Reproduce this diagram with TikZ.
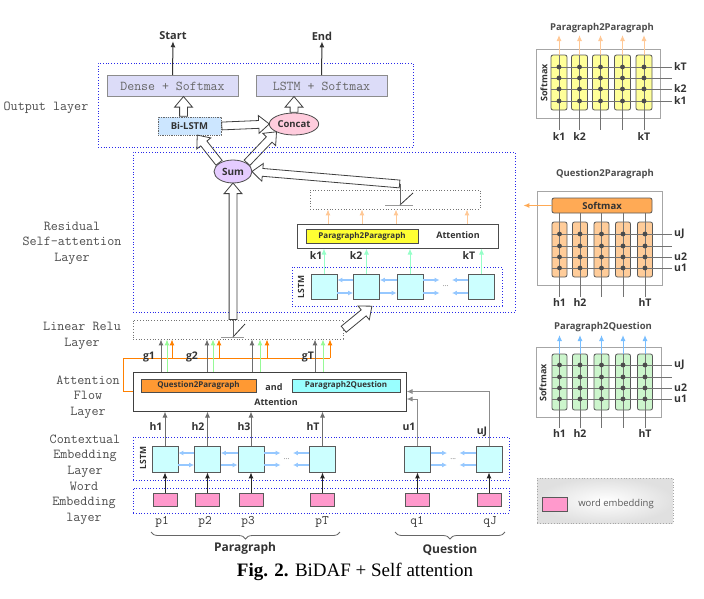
\documentclass[tikz,border=0pt]{standalone}
\usepackage{fontspec}
\setmainfont{Liberation Serif}
\setsansfont{Open Sans}
\usetikzlibrary{arrows.meta,shapes.geometric,shapes.arrows,calc,decorations.pathreplacing}

\definecolor{layerblue}{RGB}{40,40,235}
\definecolor{cellcyan}{RGB}{204,255,255}
\definecolor{embpink}{RGB}{255,153,204}
\definecolor{lavender}{RGB}{220,220,248}
\definecolor{bilstmblue}{RGB}{204,230,255}
\definecolor{concatpink}{RGB}{255,204,221}
\definecolor{sumpurple}{RGB}{229,204,255}
\definecolor{ppyellow}{RGB}{255,255,51}
\definecolor{qporange}{RGB}{255,153,51}
\definecolor{pqcyan}{RGB}{153,255,255}
\definecolor{colyellow}{RGB}{255,255,153}
\definecolor{colorange}{RGB}{255,204,153}
\definecolor{colgreen}{RGB}{204,245,204}
\definecolor{softorange}{RGB}{255,170,85}
\definecolor{peach}{RGB}{255,200,150}
\definecolor{mint}{RGB}{150,255,200}
\definecolor{lightgreen}{RGB}{150,250,150}
\definecolor{gorange}{RGB}{255,128,0}
\definecolor{arrowblue}{RGB}{150,200,255}
\definecolor{skyarrow}{RGB}{120,190,255}
\definecolor{greyline}{RGB}{110,110,110}

\tikzset{
  layerbox/.style={draw=layerblue, dotted, line width=0.8pt, inner sep=0},
  greybox/.style={draw=black!55, dotted, line width=0.8pt, inner sep=0},
  cell/.style={draw=black!65, fill=cellcyan, line width=0.8pt, minimum width=26pt, minimum height=26pt, inner sep=0},
  emb/.style={draw=black!65, fill=embpink, line width=0.8pt, minimum width=24pt, minimum height=13pt, inner sep=0},
  layername/.style={font=\ttfamily\fontsize{13.7}{15.5}\selectfont, text=black!70, align=center},
  outsm/.style={draw=black!45, fill=lavender, line width=0.8pt, minimum width=131pt, minimum height=21pt, font=\ttfamily\fontsize{13.5}{14}\selectfont, text=black!60},
  tok/.style={font=\sffamily\bfseries\fontsize{10.5}{12}\selectfont, text=black!80, inner sep=1pt},
  small/.style={font=\sffamily\bfseries\fontsize{8.5}{10}\selectfont, text=black!80, inner sep=0},
  namebox/.style={draw=black!70, line width=0.8pt, minimum height=13pt, inner sep=0, font=\sffamily\bfseries\fontsize{8}{9}\selectfont, text=black!80},
  word/.style={font=\ttfamily\fontsize{13}{14}\selectfont, text=black!80},
  title/.style={font=\sffamily\bfseries\fontsize{9.5}{11}\selectfont, text=black!70},
  col/.style={draw=black!65, line width=0.8pt, rounded corners=2pt, minimum width=15pt, inner sep=0},
  frame/.style={draw=black!35, line width=0.8pt, inner sep=0},
  fatarrow/.style={single arrow, draw=black!75, fill=white, line width=0.8pt, inner xsep=0pt, inner ysep=3.5pt, single arrow head extend=5pt, single arrow tip angle=80},
  darrow/.style={-{Latex[length=6pt,width=5pt]}, line width=1pt},
  lstmarrow/.style={-{Latex[length=5pt,width=5pt]}, draw=arrowblue, line width=1.2pt},
  gridline/.style={draw=black!55, line width=0.8pt},
  dotsnode/.style={minimum width=12pt, inner sep=0, font=\sffamily\fontsize{7}{8}\selectfont, text=black!60},
}

% hollow block arrow from #1 to #2
\newcommand\fatlink[2]{\path let \p1=#1, \p2=#2, \n1={atan2(\y2-\y1,\x2-\x1)}, \n2={veclen(\x2-\x1,\y2-\y1)} in node[fatarrow, anchor=west, rotate=\n1, minimum height=\n2] at (\p1) {};}

\begin{document}
\begin{tikzpicture}[x=1pt,y=-1pt]
  \useasboundingbox (0,0) rectangle (704,598);

  % output layer
  \node[layerbox, minimum width=315pt, minimum height=84pt] (outbox) at (255.5,105) {};
  \node[layername] (outname) at (46,108) {Output layer};
  \node[outsm] (dense) at (172.5,86) {Dense + Softmax};
  \node[outsm] (lstmsm) at (321.5,86) {LSTM + Softmax};
  \node[tok, font=\sffamily\bfseries\fontsize{11}{12}\selectfont] (start) at (173,36) {Start};
  \node[tok, font=\sffamily\bfseries\fontsize{11}{12}\selectfont] (endtxt) at (322,36) {End};
  \draw[darrow, black!80] (dense.north) -- (start.south);
  \draw[darrow, black!80] (lstmsm.north) -- (endtxt.south);
  \node[draw=black!60, densely dotted, fill=bilstmblue, line width=0.8pt, minimum width=63pt, minimum height=18pt, tok, font=\sffamily\bfseries\fontsize{9.5}{11}\selectfont] (bilstm) at (189.5,126) {Bi-LSTM};
  \node[ellipse, draw=black!70, fill=concatpink, line width=0.8pt, minimum width=48pt, minimum height=22pt, inner sep=0, tok, font=\sffamily\bfseries\fontsize{9.5}{11}\selectfont] (concat) at (294,124) {Concat};
  \node[ellipse, draw=black!70, fill=sumpurple, line width=0.8pt, minimum width=38pt, minimum height=23pt, inner sep=0, tok, font=\sffamily\bfseries\fontsize{10}{11}\selectfont] (sum) at (233,171.5) {Sum};
  \coordinate (bl) at ([xshift=-6pt]bilstm.north);
  \fatlink{(bl)}{(bl |- dense.south)}
  \fatlink{(concat.north)}{(concat.north |- lstmsm.south)}
  \fatlink{(bilstm.east)}{(concat.west)}
  \fatlink{(sum.north west)}{([xshift=8pt]bilstm.south)}
  \fatlink{(sum.north east)}{(concat.south west)}

  % residual self-attention layer
  \node[layerbox, minimum width=382pt, minimum height=160pt] (resbox) at (324,232) {};
  \node[layername] (resname) at (72,243) {Residual\\Self-attention\\Layer};
  \node[greybox, minimum width=170pt, minimum height=19pt] (relutop) at (395,199.5) {};
  \draw[black!40, line width=1pt] (385,205) -- (413,205);
  \draw[black!80, line width=0.8pt] (400,205) -- (413,193);
  \coordinate (reluout) at (400,184);
  \draw[black!60, line width=0.8pt] (400,205) -- (reluout);
  \fatlink{(reluout)}{(sum.east)}
  \node[draw=black!70, fill=white, line width=1pt, minimum width=201pt, minimum height=24pt] (ppatt) at (397.5,236) {};
  \node[namebox, fill=ppyellow, minimum width=112pt, minimum height=14pt] (ppname) at (362,236) {Paragraph2Paragraph};
  \node[tok, font=\sffamily\bfseries\fontsize{9}{10}\selectfont] (ppword) at (458,235) {Attention};
  \foreach \x in {328,362,396,467}
    \draw[darrow, peach] (\x,0 |- ppatt.north) -- (\x,0 |- relutop.south);
  \node[layerbox, minimum width=210pt, minimum height=39pt] (selflstm) at (397,286.5) {};
  \node[small, rotate=90] (selfname) at (301,287) {LSTM};
  \foreach \i/\x in {1/324,2/366.5,3/410,4/481.5} {
    \node[cell, minimum height=25pt] (s\i) at (\x,286.5) {};
    \draw[darrow, mint] (s\i.north) -- (s\i.north |- ppatt.south);
  }
  \foreach \a/\b in {s1/s2,s2/s3} {
    \draw[lstmarrow] ([yshift=6.5pt]\b.west) -- ([yshift=6.5pt]\a.east);
    \draw[lstmarrow] ([yshift=-6.5pt]\a.east) -- ([yshift=-6.5pt]\b.west);
  }
  \node[dotsnode] (sdots) at ($(s3.east)!0.5!(s4.west)$) {...};
  \foreach \d in {6.5,-6.5} {
    \draw[lstmarrow] ([yshift=\d pt]s3.east) -- ([yshift=\d pt]sdots.west);
    \draw[lstmarrow] ([yshift=\d pt]s4.west) -- ([yshift=\d pt]sdots.east);
  }
  \node[tok] (k1) at (316,256) {k1};
  \node[tok] (k2) at (356,256) {k2};
  \node[tok] (kT) at (469,256) {kT};

  % linear relu layer
  \node[greybox, minimum width=210pt, minimum height=19pt] (linrelu) at (238,329.5) {};
  \node[layername] (linname) at (82,336) {Linear Relu\\Layer};
  \draw[black!40, line width=1pt] (221,337) -- (244,337);
  \draw[black!80, line width=0.8pt] (233,337) -- (245,324);
  \coordinate (linout) at (233,320);
  \draw[black!60, line width=0.8pt] (233,337) -- (linout);
  \fatlink{(linout)}{(sum.south)}
  \coordinate (lsin) at ($(selflstm.south west)+(80,0)$);
  \fatlink{(linrelu.east)}{(lsin)}

  % attention flow layer
  \node[draw=black!75, fill=white, line width=1pt, minimum width=273pt, minimum height=39pt] (attflow) at (269.5,391.5) {};
  \node[namebox, fill=qporange, minimum width=115pt] (qtop) at (198.5,385.5) {Question2Paragraph};
  \node[namebox, fill=pqcyan, minimum width=108pt] (ptoq) at (346,385.5) {Paragraph2Question};
  \node[tok, font=\sffamily\bfseries\fontsize{9}{10}\selectfont] (andw) at (274,387) {and};
  \node[tok, font=\sffamily\bfseries\fontsize{9}{10}\selectfont] (attw) at (276,402) {Attention};
  \node[layername] (flowname) at (88,397) {Attention\\Flow\\Layer};
  \coordinate (gline) at (0,358);
  \draw[gorange, line width=1pt] (attflow.west) -- ++(-9,0) |- (330,0 |- gline);
  \foreach \x in {161,207,252,315}
    \draw[darrow, greyline] (\x,0 |- attflow.north) -- (\x,0 |- linrelu.south);
  \foreach \x in {167,213,260,323}
    \draw[darrow, lightgreen] (\x,0 |- attflow.north) -- (\x,0 |- linrelu.south);
  \foreach \x in {172,219,267,330}
    \draw[darrow, gorange] (\x,0 |- gline) -- (\x,0 |- linrelu.south);
  \node[tok] (g1) at (149,357) {g1};
  \node[tok] (g2) at (192,357) {g2};
  \node[tok] (gT) at (308,357) {gT};

  % contextual embedding layer
  \node[layerbox, minimum width=376pt, minimum height=43pt] (ctxbox) at (321,458.5) {};
  \node[layername] (ctxname) at (85,456) {Contextual\\Embedding\\Layer};
  \node[small, rotate=90] (ctxlstm) at (143,458) {LSTM};
  \foreach \i/\x in {1/165,2/207.5,3/251,4/322.5}
    \node[cell] (c\i) at (\x,459) {};
  \foreach \i/\x in {1/417.5,2/489}
    \node[cell] (d\i) at (\x,459) {};
  \foreach \a/\b in {c1/c2,c2/c3} {
    \draw[lstmarrow] ([yshift=6pt]\b.west) -- ([yshift=6pt]\a.east);
    \draw[lstmarrow] ([yshift=-6pt]\a.east) -- ([yshift=-6pt]\b.west);
  }
  \node[dotsnode] (cdots) at ($(c3.east)!0.5!(c4.west)$) {...};
  \node[dotsnode] (ddots) at ($(d1.east)!0.5!(d2.west)$) {...};
  \foreach \d in {6,-6} {
    \draw[lstmarrow] ([yshift=\d pt]c3.east) -- ([yshift=\d pt]cdots.west);
    \draw[lstmarrow] ([yshift=\d pt]c4.west) -- ([yshift=\d pt]cdots.east);
    \draw[lstmarrow] ([yshift=\d pt]d1.east) -- ([yshift=\d pt]ddots.west);
    \draw[lstmarrow] ([yshift=\d pt]d2.west) -- ([yshift=\d pt]ddots.east);
  }
  \foreach \i in {1,...,4}
    \draw[darrow, greyline] (c\i.north) -- (c\i.north |- attflow.south);
  \draw[darrow, black!45] (d1.north) |- ([yshift=-7.5pt]attflow.east);
  \draw[darrow, black!45] (d2.north) |- (attflow.east);
  \node[tok] (h1) at (156,427) {h1};
  \node[tok] (h2) at (198,427) {h2};
  \node[tok] (h3) at (244,427) {h3};
  \node[tok] (hT) at (313,427) {hT};
  \node[tok] (u1) at (409,427) {u1};
  \node[tok] (uJ) at (482,432) {uJ};

  % word embedding layer
  \node[layerbox, minimum width=376pt, minimum height=25pt] (embbox) at (321,500.5) {};
  \node[layername] (embname) at (84,503) {Word\\Embedding\\layer};
  \foreach \i/\x in {1/165,2/207.5,3/251,4/322.5} {
    \node[emb] (e\i) at (\x,499.5) {};
    \draw[darrow, black!85] (e\i.north) -- (c\i.south);
  }
  \foreach \i/\x in {1/417.5,2/489} {
    \node[emb] (f\i) at (\x,499.5) {};
    \draw[darrow, black!85] (f\i.north) -- (d\i.south);
  }
  \foreach \n/\x/\t in {p1/162/p1,p2/205/p2,p3/248/p3,pT/322/pT,q1/417/q1,qJ/490/qJ}
    \node[word] (\n) at (\x,522) {\t};
  \draw[decorate, decoration={brace, amplitude=7pt, mirror}, black!60, line width=0.8pt] (151,532) -- (340,532);
  \draw[decorate, decoration={brace, amplitude=7pt, mirror}, black!60, line width=0.8pt] (395,532) -- (505,532);
  \node[font=\sffamily\bfseries\fontsize{12}{14}\selectfont, text=black!80] (paraw) at (245,548) {Paragraph};
  \node[font=\sffamily\bfseries\fontsize{12}{14}\selectfont, text=black!80] (questw) at (450,550) {Question};
  \node[font=\fontsize{19}{22}\selectfont] (caption) at (355,572) {\textbf{Fig. 2.} BiDAF + Self attention};

  % legend
  \node[draw=black!35, dotted, line width=0.8pt, inner color=white, outer color=black!12, minimum width=136pt, minimum height=45pt] (legend) at (605,500.5) {};
  \node[emb, minimum width=25pt, minimum height=14pt] (legemb) at (554.5,504) {};
  \node[font=\sffamily\fontsize{9.5}{11}\selectfont, text=black!65] (legtext) at (616,504) {word embedding};

  % paragraph2paragraph matrix
  \node[title] (ppttl) at (602,28) {Paragraph2Paragraph};
  \node[frame, minimum width=124pt, minimum height=69pt] (ppframe) at (598,83.5) {};
  \node[small, font=\sffamily\bfseries\fontsize{9}{10}\selectfont, rotate=90] (ppsoft) at (544,83) {Softmax};
  \foreach \i/\x in {1/559,2/579.5,3/600.5,4/622.5,5/644} {
    \node[col, fill=colyellow, minimum width=16pt, minimum height=55pt] (pa\i) at (\x,82.5) {};
    \draw[darrow, peach] (pa\i.north) -- (\x,35);
  }
  \foreach \y in {67,78,89,101}
    \draw[gridline] (pa1.west |- 0,\y) -- (672,\y);
  \foreach \i/\x in {1/559,2/579.5,3/600.5,4/622.5,5/644} {
    \draw[gridline] (pa\i.north) -- (\x,130);
    \foreach \y in {67,78,89,101}
      \fill[black!70] (\x,\y) circle (2.4pt);
  }
  \node[tok, anchor=west] (pakT) at (673,67) {kT};
  \node[tok, anchor=west] (pak2) at (673,89) {k2};
  \node[tok, anchor=west] (pak1) at (673,101) {k1};
  \node[tok] (pabk1) at (559,137) {k1};
  \node[tok] (pabk2) at (579.5,137) {k2};
  \node[tok] (pabkT) at (644,137) {kT};

  % question2paragraph matrix
  \node[title] (qpttl) at (605,174) {Question2Paragraph};
  \node[frame, minimum width=125pt, minimum height=94pt] (qpframe) at (599.5,238) {};
  \foreach \i/\x in {1/559.5,2/580,3/601.5,4/623,5/645}
    \node[col, fill=colorange, minimum height=55pt] (qb\i) at (\x,249.5) {};
  \node[col, fill=softorange, minimum width=100pt, minimum height=15pt, font=\sffamily\bfseries\fontsize{9.5}{11}\selectfont, text=black!80] (qsoft) at (602,205.5) {Softmax};
  \draw[darrow, softorange] (qsoft.west) -- (qsoft.west -| resbox.east) [shorten >=8pt];
  \foreach \y in {234,246,257,268}
    \draw[gridline] (qb1.west |- 0,\y) -- (672,\y);
  \foreach \i/\x in {1/559.5,2/580,3/601.5,4/623,5/645} {
    \draw[gridline] (\x,0 |- qsoft.south) -- (\x,297);
    \foreach \y in {234,246,257,268}
      \fill[black!70] (\x,\y) circle (2.4pt);
  }
  \node[tok, anchor=west] (qbuJ) at (673,234) {uJ};
  \node[tok, anchor=west] (qbu2) at (673,257) {u2};
  \node[tok, anchor=west] (qbu1) at (673,268) {u1};
  \node[tok] (qbh1) at (559.5,303) {h1};
  \node[tok] (qbh2) at (580,303) {h2};
  \node[tok] (qbhT) at (645,303) {hT};

  % paragraph2question matrix
  \node[title] (pqttl) at (603,327) {Paragraph2Question};
  \node[frame, minimum width=125pt, minimum height=70pt] (pqframe) at (598.5,382) {};
  \node[small, font=\sffamily\bfseries\fontsize{9}{10}\selectfont, rotate=90] (pqsoft) at (543,383) {Softmax};
  \foreach \i/\x in {1/559.5,2/580,3/601.5,4/623,5/645} {
    \node[col, fill=colgreen, minimum height=56pt] (pc\i) at (\x,382) {};
    \draw[darrow, skyarrow] (pc\i.north) -- (\x,335);
  }
  \foreach \y in {365,377,388,399}
    \draw[gridline] (pc1.west |- 0,\y) -- (672,\y);
  \foreach \i/\x in {1/559.5,2/580,3/601.5,4/623,5/645} {
    \draw[gridline] (pc\i.north) -- (\x,428);
    \foreach \y in {365,377,388,399}
      \fill[black!70] (\x,\y) circle (2.4pt);
  }
  \node[tok, anchor=west] (pcuJ) at (673,365) {uJ};
  \node[tok, anchor=west] (pcu2) at (673,388) {u2};
  \node[tok, anchor=west] (pcu1) at (673,399) {u1};
  \node[tok] (pch1) at (559.5,434) {h1};
  \node[tok] (pch2) at (580,434) {h2};
  \node[tok] (pchT) at (645,434) {hT};
\end{tikzpicture}
\end{document}
